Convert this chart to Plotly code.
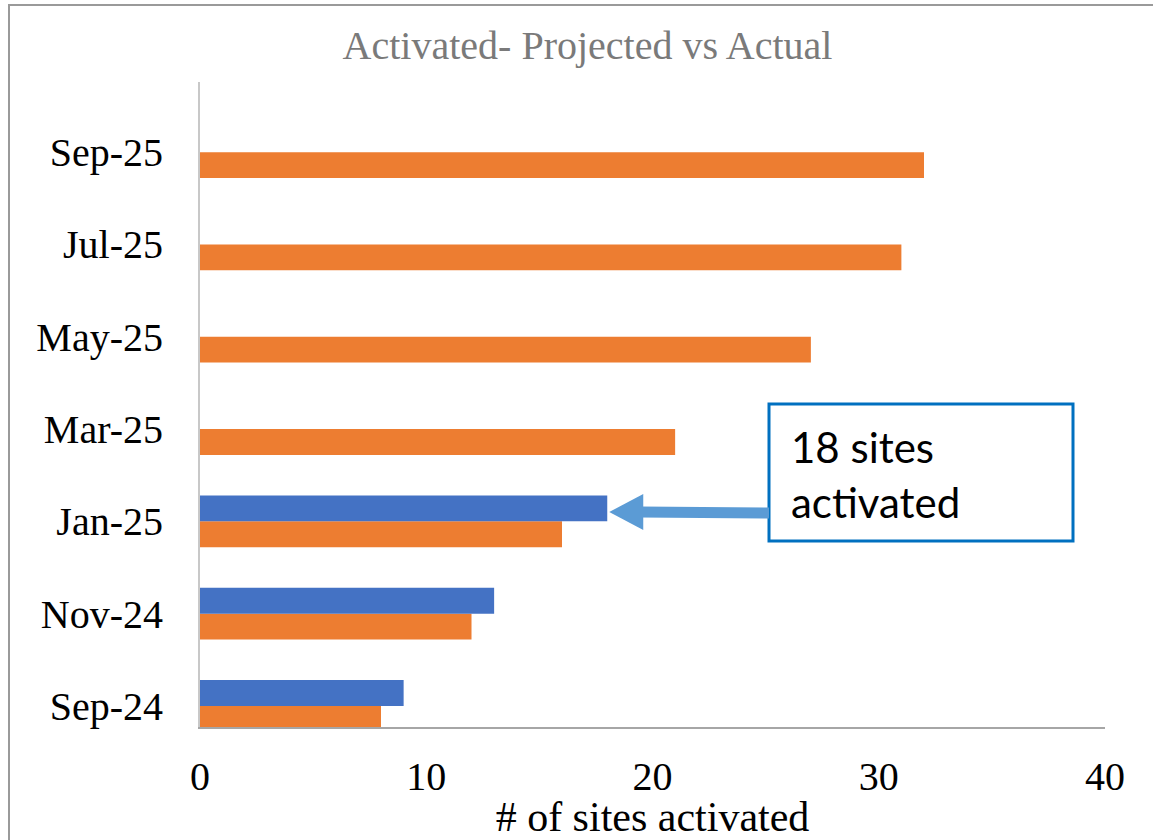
import plotly.graph_objects as go

months = ["Sep-24", "Nov-24", "Jan-25", "Mar-25", "May-25", "Jul-25", "Sep-25"]
projected = [8, 12, 16, 21, 27, 31, 32]
actual_months = ["Sep-24", "Nov-24", "Jan-25"]
actual = [9, 13, 18]
x_ticks = [0, 10, 20, 30, 40]

title_text = "Activated- Projected vs Actual"
x_title = "# of sites activated"
callout_text = "18 sites<br>activated"

ORANGE = "#ED7D31"
BLUE = "#4472C4"
SERIF = "Liberation Serif, Times New Roman, serif"

W, H = 1153, 840
L, R, T, B = 200, 48, 82, 113
PW, PH = W - L - R, H - T - B


def px_x(px):
    return (px - L) / PW


def px_y(py):
    return (H - B - py) / PH


fig = go.Figure()
fig.add_trace(go.Bar(y=months, x=projected, orientation="h", name="Projected",
                     marker=dict(color=ORANGE, line=dict(width=0))))
fig.add_trace(go.Bar(y=actual_months, x=actual, orientation="h", name="Actual",
                     marker=dict(color=BLUE, line=dict(width=0))))

shapes = []
# outer frame (left and top edges)
shapes.append(dict(type="line", xref="paper", yref="paper",
                   x0=px_x(9), x1=px_x(9), y0=px_y(845), y1=px_y(5),
                   line=dict(color="#9a9a9a", width=2), layer="below"))
shapes.append(dict(type="line", xref="paper", yref="paper",
                   x0=px_x(8), x1=px_x(1160), y0=px_y(5), y1=px_y(5),
                   line=dict(color="#9a9a9a", width=2), layer="below"))
# callout box
shapes.append(dict(type="rect", xref="paper", yref="paper",
                   x0=px_x(769), x1=px_x(1073), y0=px_y(541), y1=px_y(404),
                   line=dict(color="#0070C0", width=3), fillcolor="white"))
# arrow shaft
shapes.append(dict(type="line", xref="paper", yref="paper",
                   x0=px_x(769), x1=px_x(640), y0=px_y(513), y1=px_y(512),
                   line=dict(color="#5B9BD5", width=11)))
# arrow head (tip at actual Jan-25 value)
tip = px_x(L + actual[2] * PW / 40 + 2)
base = px_x(L + actual[2] * PW / 40 + 36)
shapes.append(dict(type="path", xref="paper", yref="paper",
                   path=f"M {tip},{px_y(512)} L {base},{px_y(494)} L {base},{px_y(530)} Z",
                   line=dict(color="#5B9BD5", width=0), fillcolor="#5B9BD5"))

fig.update_layout(
    width=W, height=H,
    margin=dict(l=L, r=R, t=T, b=B, autoexpand=False),
    paper_bgcolor="white", plot_bgcolor="white",
    barmode="group", bargap=0.44, bargroupgap=0,
    showlegend=False,
    title=dict(text=title_text, x=(340 + 835) / 2 / W, xanchor="center",
               y=1 - 45 / H, yanchor="middle", yref="container",
               font=dict(family=SERIF, size=40, color="#7a7a7a")),
    xaxis=dict(range=[0, 40], tickvals=x_ticks, showgrid=False, zeroline=False,
               showline=True, linecolor="#a6a6a6", linewidth=1.5,
               ticks="", ticklabelstandoff=13,
               tickfont=dict(family=SERIF, size=40, color="black"),
               title=dict(text=x_title, standoff=14,
                          font=dict(family=SERIF, size=42, color="black")),
               automargin=False, fixedrange=True),
    yaxis=dict(categoryorder="array", categoryarray=months, range=[-0.228, 6.76],
               showgrid=False, zeroline=False, showline=True, linecolor="#c8c8c8",
               linewidth=2, ticks="", ticklabelstandoff=27,
               tickfont=dict(family=SERIF, size=40, color="black"),
               automargin=False, fixedrange=True),
    shapes=shapes,
    annotations=[dict(text=callout_text, xref="paper", yref="paper",
                      x=px_x(789), y=px_y(420), xanchor="left", yanchor="top",
                      align="left", showarrow=False,
                      font=dict(family="Lato, Open Sans, sans-serif", size=42, color="black"))],
)

fig.write_html("out.html", config={"displayModeBar": False},
               post_script="document.body.style.margin='0';document.body.style.overflow='hidden';")
